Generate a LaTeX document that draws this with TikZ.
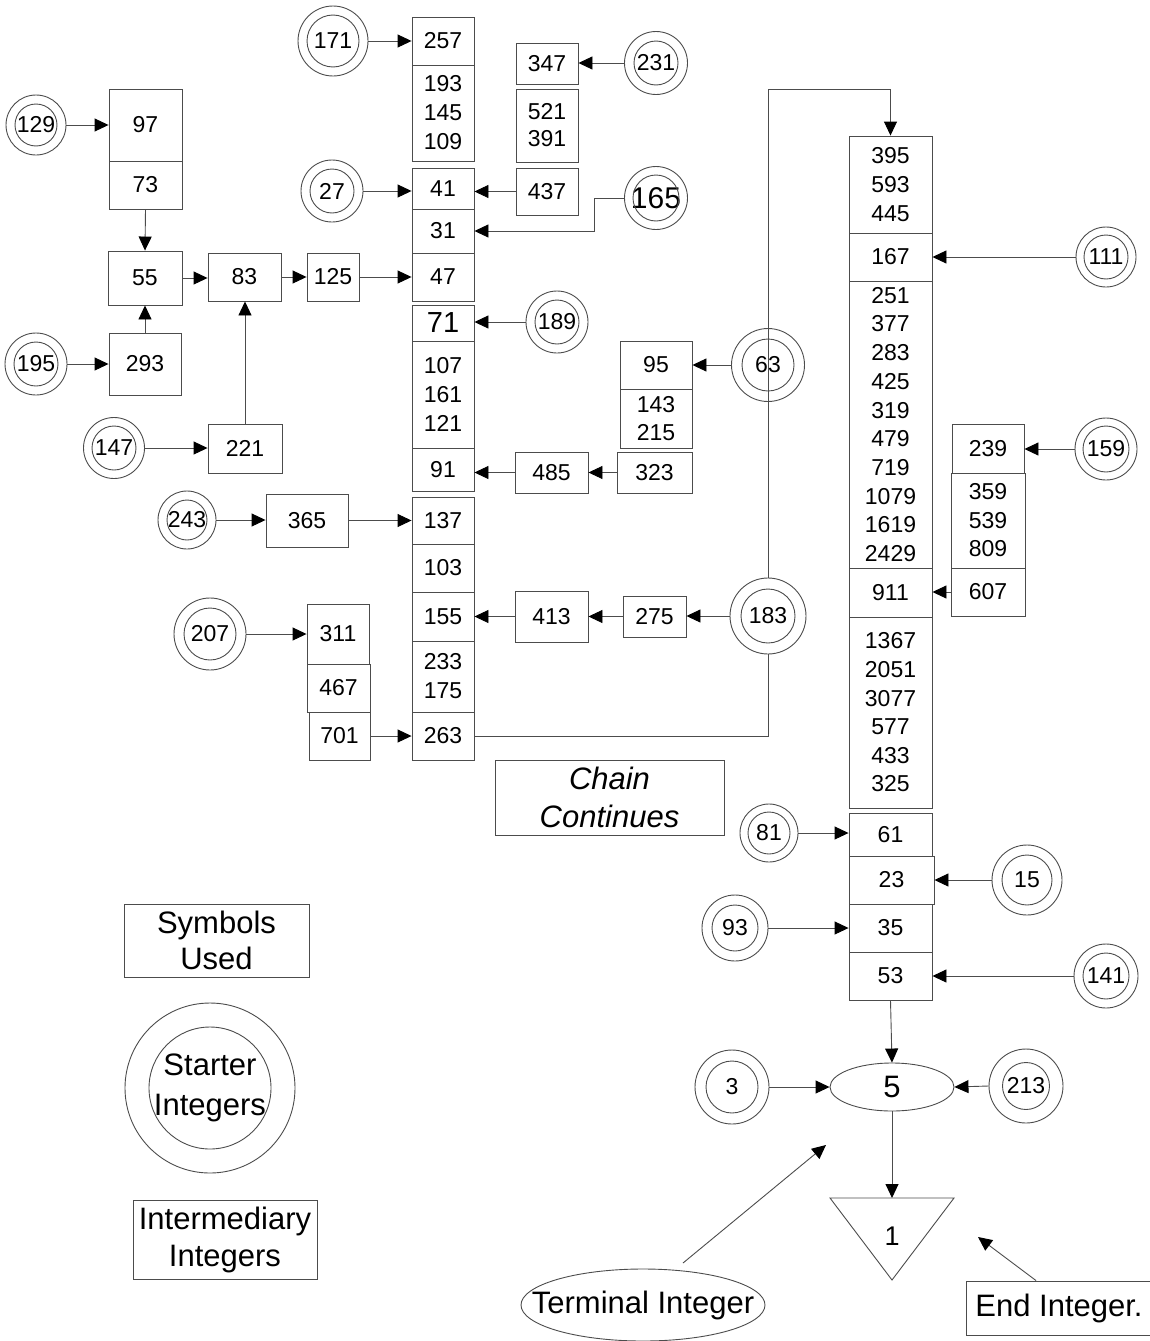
\documentclass[tikz,border=0pt]{standalone}
\usepackage{fontspec}
\setmainfont{Liberation Sans}
\usetikzlibrary{arrows.meta,shapes.geometric,backgrounds}
\tikzset{
  ln/.style={draw=black!70, line width=0.9pt},
  box/.style={ln, rectangle, inner sep=0pt, align=center, font=\fontsize{23pt}{29pt}\selectfont},
  stc/.style={ln, circle, inner sep=0pt, font=\fontsize{23pt}{28pt}\selectfont},
  arr/.style={draw=black!70, line width=0.9pt, -{Triangle[length=14pt,width=13pt,black]}},
  lbl/.style={font=\fontsize{31pt}{31pt}\selectfont}
}
\newcommand\bx[7][]{\node[box,minimum width=#5pt,minimum height=#6pt,#1] (#2) at (#3,#4) {#7};}
\newcommand\stn[7][]{\node[stc,minimum size=#5*2pt,#1] (#2) at (#3,#4) {#7};\draw[ln] (#2.center) circle[radius=#6pt];}
\begin{document}
\begin{tikzpicture}[x=1pt,y=-1pt]
\useasboundingbox (0,0) rectangle (1150,1341);
% starters
\stn{c129}{36}{125}{30}{21}{129}
\stn{c195}{36}{364}{31}{22}{195}
\stn{c147}{114}{448}{30.5}{22}{147}
\stn{c171}{333}{41}{35}{26}{171}
\stn{c27}{332}{191}{31}{22}{27}
\stn{c231}{656}{63}{31.5}{22}{231}
\stn[font=\fontsize{30pt}{30pt}\selectfont]{c165}{656}{198}{31.5}{23}{165}
\stn{c189}{557}{322}{31}{22}{189}
\stn{c63}{768}{365}{36.5}{26}{63}
\stn[fill=white]{c183}{768}{616}{38}{27}{183}
\stn{c243}{187}{520}{29}{20}{243}
\stn{c207}{210}{634}{36}{26}{207}
\stn{c111}{1106}{257}{30}{22}{111}
\stn{c159}{1106}{449}{31}{23}{159}
\stn{c81}{769}{833}{29}{21}{81}
\stn{c15}{1027}{880}{35}{25}{15}
\stn{c93}{735}{928}{33}{23}{93}
\stn{c141}{1106}{976}{32}{23}{141}
\stn{c3}{732}{1087}{37}{26}{3}
\stn{c213}{1026}{1086}{37}{23.5}{213}
\stn[font=\fontsize{31pt}{40pt}\selectfont,align=center]{legc}{210}{1088}{85}{61}{Starter\\Integers}
% left cluster
\bx{b97}{145.5}{125}{73}{72}{97}
\bx{b73}{145.5}{185}{73}{48}{73}
\bx{b55}{145}{278}{74}{54}{55}
\bx{b83}{244.5}{277}{73}{48}{83}
\bx{b125}{333}{277}{52}{48}{125}
\bx{b293}{145}{364}{72}{62}{293}
\bx{b221}{245}{448.5}{74}{49}{221}
% centre column
\bx{b257}{443}{41}{62}{48}{257}
\bx{b193}{443}{113}{62}{96}{193\\145\\109}
\bx{b41}{443}{188.5}{62}{41}{41}
\bx{b31}{443}{231}{62}{44}{31}
\bx{b47}{443}{277}{62}{48}{47}
\bx[font=\fontsize{29pt}{29pt}\selectfont]{b71}{443}{323}{62}{36}{71}
\bx{b107}{443}{394.5}{62}{107}{107\\161\\121}
\bx{b91}{443}{469.5}{62}{43}{91}
\bx{b137}{443}{520.5}{62}{47}{137}
\bx{b103}{443}{568}{62}{48}{103}
\bx{b155}{443}{616.5}{62}{49}{155}
\bx{b233}{443}{676.5}{62}{71}{233\\175}
\bx{b263}{443}{736}{62}{48}{263}
\bx{b347}{547}{63.5}{62}{41}{347}
\bx[font=\fontsize{23pt}{27pt}\selectfont]{b521}{547}{125.5}{62}{73}{521\\391}
\bx{b437}{547}{191.5}{62}{47}{437}
\bx{b95}{656}{365}{72}{48}{95}
\bx[font=\fontsize{23pt}{28pt}\selectfont]{b143}{656}{418.5}{72}{59}{143\\215}
\bx{b323}{654.5}{472.5}{75}{41}{323}
\bx{b485}{551.5}{472.5}{73}{41}{485}
\bx{b275}{654.5}{616.5}{63}{41}{275}
\bx{b413}{551.5}{616.5}{73}{51}{413}
\bx{b365}{307}{520.5}{82}{53}{365}
\bx{b311}{338}{634}{62}{60}{311}
\bx{b467}{338.5}{688}{63}{48}{467}
\bx{b701}{339.5}{736}{61}{48}{701}
% right column
\bx[font=\fontsize{23pt}{28.7pt}\selectfont]{bR1}{890.5}{184.5}{83}{97}{395\\593\\445}
\bx{b167}{890.5}{257}{83}{48}{167}
\bx[font=\fontsize{23pt}{28.7pt}\selectfont]{bR2}{890.5}{424.5}{83}{287}{251\\377\\283\\425\\319\\479\\719\\1079\\1619\\2429}
\bx{b911}{890.5}{592.5}{83}{49}{911}
\bx[font=\fontsize{23pt}{28.6pt}\selectfont]{bR3}{890.5}{712.5}{83}{191}{1367\\2051\\3077\\577\\433\\325}
\bx{b61}{890.5}{834.5}{83}{43}{61}
\bx{b23}{891.5}{880}{85}{48}{23}
\bx{b35}{890.5}{928}{83}{48}{35}
\bx{b53}{890.5}{976}{83}{48}{53}
\bx{b239}{988}{448.5}{72}{49}{239}
\bx[font=\fontsize{23pt}{28.5pt}\selectfont]{b359}{988}{520.5}{74}{95}{359\\539\\809}
\bx{b607}{988}{592}{74}{48}{607}
% legend and labels
\bx[font=\fontsize{31pt}{36pt}\selectfont]{sym}{216.5}{940.5}{185}{73}{Symbols\\Used}
\bx[font=\fontsize{31pt}{37pt}\selectfont]{inter}{225}{1239.5}{184}{79}{Intermediary\\Integers}
\bx[font=\fontsize{31pt}{38pt}\selectfont\itshape]{chain}{609.5}{797.5}{229}{75}{Chain\\Continues}
\bx[font=\fontsize{31pt}{31pt}\selectfont]{endb}{1059}{1308}{186}{54}{End Integer.}
\node[inner sep=0pt, lbl] (term) at (643,1305) {Terminal Integer};
\draw[ln] (term.center) ellipse[x radius=122pt, y radius=36pt];
\coordinate (termtop) at (683,1263);
% terminal and end
\node[ln, ellipse, minimum width=124pt, minimum height=48pt, inner sep=0pt, font=\fontsize{31pt}{31pt}\selectfont] (e5) at (892,1087) {5};
\draw[ln] (830,1198) -- (954,1198) -- (892,1280) -- cycle;
\node[font=\fontsize{27pt}{27pt}\selectfont] (one) at (892,1236) {1};
\coordinate (ttop) at (892,1198);
\coordinate (tpt) at (826,1145);
\coordinate (ept) at (978,1237);
\coordinate (turn) at (768,89);
% connectors
\draw[arr] (c129.east) -- (c129.east -| b97.west);
\draw[arr] (b73.south) -- (b55.north);
\draw[arr] (b293.north) -- (b55.south);
\draw[arr] (b55.east) -- (b55.east -| b83.west);
\draw[arr] (b83.east) -- (b83.east -| b125.west);
\draw[arr] (b125.east) -- (b125.east -| b47.west);
\draw[arr] (c195.east) -- (c195.east -| b293.west);
\draw[arr] (c147.east) -- (c147.east -| b221.west);
\draw[arr] (b221.north) -- (b221.north |- b83.south);
\draw[arr] (c171.east) -- (c171.east -| b257.west);
\draw[arr] (c27.east) -- (c27.east -| b41.west);
\draw[arr] (b437.west) -- (b437.west -| b41.east);
\draw[arr] (c231.west) -- (c231.west -| b347.east);
\draw[arr] (c165.west) -- ++(-30,0) |- (b31.east);
\draw[arr] (c189.west) -- (c189.west -| b71.east);
\draw[arr] (c63.west) -- (c63.west -| b95.east);
\draw[arr] (b323.west) -- (b323.west -| b485.east);
\draw[arr] (b485.west) -- (b485.west -| b91.east);
\draw[arr] (c243.east) -- (c243.east -| b365.west);
\draw[arr] (b365.east) -- (b365.east -| b137.west);
\draw[arr] (c183.west) -- (c183.west -| b275.east);
\draw[arr] (b275.west) -- (b275.west -| b413.east);
\draw[arr] (b413.west) -- (b413.west -| b155.east);
\draw[arr] (c207.east) -- (c207.east -| b311.west);
\draw[arr] (b701.east) -- (b701.east -| b263.west);
\draw[arr] (c111.west) -- (c111.west -| b167.east);
\draw[arr] (c159.west) -- (c159.west -| b239.east);
\draw[arr] (b607.west) -- (b607.west -| b911.east);
\draw[arr] (c81.east) -- (c81.east -| b61.west);
\draw[arr] (c15.west) -- (c15.west -| b23.east);
\draw[arr] (c93.east) -- (c93.east -| b35.west);
\draw[arr] (c141.west) -- (c141.west -| b53.east);
\draw[arr] (b53.south) -- (e5.north);
\draw[arr] (c3.east) -- (e5.west);
\draw[arr] (c213.west) -- (e5.east);
\draw[arr] (e5.south) -- (ttop);
\draw[arr] (termtop) -- (tpt);
\draw[arr] ([xshift=-23pt]endb.north) -- (ept);
\begin{scope}[on background layer]
\draw[arr] (b263.east) -| (turn) -| (bR1.north);
\end{scope}
\end{tikzpicture}
\end{document}
